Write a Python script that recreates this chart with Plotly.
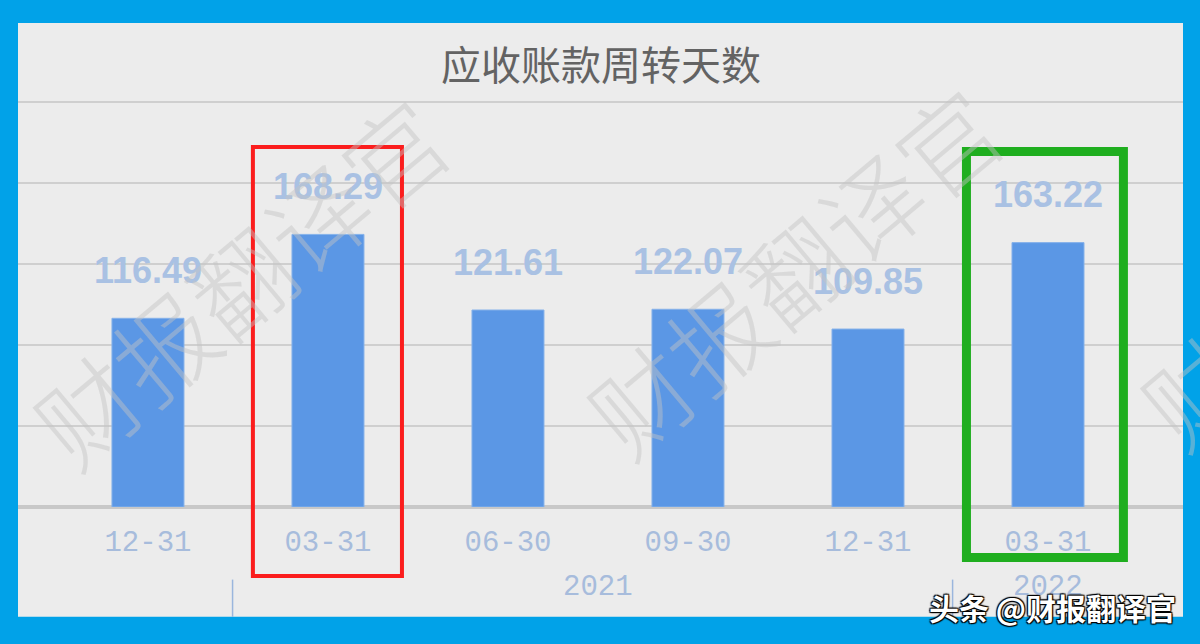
import plotly.graph_objects as go

# ---- data ----
dates = ["12-31", "03-31", "06-30", "09-30", "12-31", "03-31"]
years = ["2020", "2021", "2021", "2021", "2021", "2022"]
values = [116.49, 168.29, 121.61, 122.07, 109.85, 163.22]
value_text = ["116.49", "168.29", "121.61", "122.07", "109.85", "163.22"]
year_groups = ["2021", "2022"]
title_text = "应收账款周转天数"
watermark = "财报翻译官"
footer = "头条 @财报翻译官"

idx = list(range(len(values)))
YMAX = 298.8

BLUE_BORDER = "#01a2e8"
PANEL = "#ececec"
BAR = "#5b97e5"
LABEL = "#a9c1e3"
TICK = "#a7bcdc"

fig = go.Figure()
fig.add_trace(go.Bar(
    x=idx, y=values, width=0.4,
    marker=dict(color=BAR, line=dict(color="#86b2ea", width=1)),
    hoverinfo="skip",
))

annotations = []
# value labels above bars
for i, (v, t) in enumerate(zip(values, value_text)):
    annotations.append(dict(
        x=i, y=v, xref="x", yref="y", text=t, showarrow=False,
        yanchor="middle", yshift=48,
        font=dict(family="Liberation Sans, Arial", size=36, color=LABEL, weight="bold"),
    ))

# year group labels
for yname in year_groups:
    pos = [i for i, y in enumerate(years) if y == yname]
    annotations.append(dict(
        x=sum(pos) / len(pos), y=-0.167, xref="x", yref="paper", text=yname,
        showarrow=False, yanchor="middle",
        font=dict(family="Liberation Mono, monospace", size=29, color=TICK),
    ))

# title
annotations.append(dict(
    x=0.5, y=0.917, xref="paper", yref="paper", text=title_text, showarrow=False,
    yanchor="middle",
    font=dict(family="Noto Sans CJK SC", size=40, color="#636363"),
))

# watermarks
for cx, cy in [(0.19, 0.47), (0.665, 0.49), (1.14, 0.51)]:
    annotations.append(dict(
        x=cx, y=cy, xref="paper", yref="paper", text=watermark, showarrow=False,
        textangle=-40, xanchor="center", yanchor="middle",
        font=dict(family="Noto Sans CJK SC", size=100, color="rgba(195,195,195,0.45)", weight=300),
    ))

# footer
annotations.append(dict(
    x=0.9957, y=-0.207, xref="paper", yref="paper", text=footer, showarrow=False,
    xanchor="right", yanchor="middle",
    font=dict(family="Noto Sans CJK SC", size=30, color="white", weight="bold",
              shadow="1px 1px 1px #000, -1px -1px 1px #000, 1px -1px 1px #000, -1px 1px 1px #000"),
))

shapes = [
    # gray panel
    dict(type="rect", xref="paper", yref="paper", x0=0, x1=1, y0=-0.227, y1=1.0,
         fillcolor=PANEL, line=dict(width=0), layer="below"),
]
# group dividers
for b in [0.5, 4.5]:
    shapes.append(dict(type="line", xref="x", yref="paper", x0=b - 0.03, x1=b - 0.03,
                       y0=-0.15, y1=-0.227, line=dict(color="#9ab6dd", width=1.5)))
# highlight boxes (y given in value units, converted to paper so they may extend below the axis)
red_box = dict(x0=0.583, x1=1.411, y0=-42.6, y1=222.2)
green_box = dict(x0=4.547, x1=5.419, y0=-31.2, y1=219.4)
shapes.append(dict(type="rect", xref="x", yref="paper", x0=red_box["x0"], x1=red_box["x1"],
                   y0=red_box["y0"] / YMAX, y1=red_box["y1"] / YMAX,
                   line=dict(color="#fb1d1d", width=4)))
shapes.append(dict(type="rect", xref="x", yref="paper", x0=green_box["x0"], x1=green_box["x1"],
                   y0=green_box["y0"] / YMAX, y1=green_box["y1"] / YMAX,
                   line=dict(color="#1fae1f", width=9)))

fig.update_layout(
    width=1200, height=644,
    margin=dict(l=18, r=17, t=23, b=137),
    paper_bgcolor=BLUE_BORDER,
    plot_bgcolor="rgba(0,0,0,0)",
    showlegend=False,
    bargap=0.6,
    annotations=annotations,
    shapes=shapes,
    xaxis=dict(
        range=[-0.722, 5.75], tickvals=idx, ticktext=dates, showgrid=False,
        zeroline=False, showline=False, ticks="", ticklabelstandoff=14,
        tickfont=dict(family="Liberation Mono, monospace", size=29, color=TICK),
        fixedrange=True,
    ),
    yaxis=dict(
        range=[0, YMAX], dtick=50, showticklabels=False, showgrid=True,
        gridcolor="#cfcfcf", gridwidth=2, zeroline=True, zerolinecolor="#c8c8c8",
        zerolinewidth=4, ticks="", fixedrange=True,
    ),
)

fig.write_html("out.html", config={"displayModeBar": False},
               post_script="document.body.style.margin='0';document.body.style.overflow='hidden';")
